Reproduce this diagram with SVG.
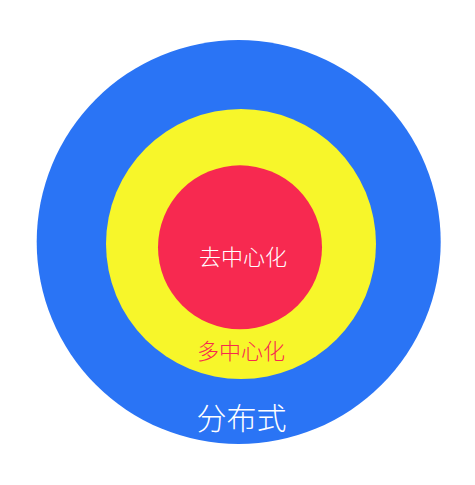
<svg xmlns="http://www.w3.org/2000/svg" width="475" height="485" viewBox="0 0 475 485">
<style>
text{font-family:"Noto Sans CJK SC","Noto Sans",sans-serif;font-weight:300;text-anchor:middle}
</style>
<rect width="475" height="485" fill="#ffffff"/>
<g id="distributed">
<circle cx="238.7" cy="242" r="202" fill="#2A74F5"/>
<text x="241.5" y="429" font-size="30" fill="#ffffff">分布式</text>
</g>
<g id="multi-center">
<circle cx="241" cy="244" r="135" fill="#F7F62A"/>
<text x="241" y="358.5" font-size="22" fill="#F72950">多中心化</text>
</g>
<g id="decentralized">
<circle cx="240" cy="247.3" r="82" fill="#F72950"/>
<text x="243" y="265" font-size="22" fill="#ffffff">去中心化</text>
</g>
<g id="connectors"/>
</svg>
